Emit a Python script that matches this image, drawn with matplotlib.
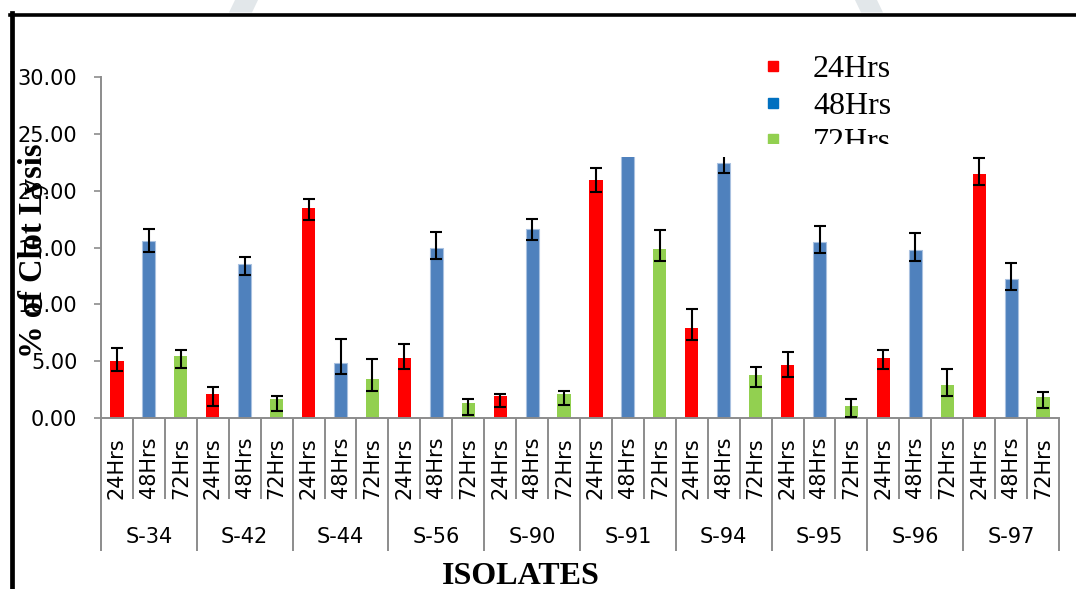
import matplotlib
matplotlib.use("Agg")
import matplotlib.pyplot as plt
import numpy as np
from matplotlib.lines import Line2D
from matplotlib.patches import Rectangle, Polygon
from matplotlib.ticker import FixedLocator

# ---------------- data ----------------
groups = ['S-34', 'S-42', 'S-44', 'S-56', 'S-90', 'S-91', 'S-94', 'S-95', 'S-96', 'S-97']
times = ['24Hrs', '48Hrs', '72Hrs']
v24 = [5.05, 2.13, 18.45, 5.30, 1.99, 20.94, 7.91, 4.68, 5.27, 21.47]
v48 = [15.58, 13.56, 4.89, 15.00, 16.66, 24.50, 22.46, 15.52, 14.79, 12.27]
v72 = [5.47, 1.70, 3.45, 1.34, 2.14, 14.88, 3.80, 1.08, 2.90, 1.87]
lo24 = [0.93, 1.02, 1.02, 0.97, 1.00, 1.03, 1.00, 1.03, 0.94, 1.00]
hi24 = [1.12, 0.65, 0.82, 1.23, 0.15, 1.08, 1.67, 1.14, 0.76, 1.38]
lo48 = [0.94, 0.96, 1.00, 1.00, 1.00, 1.00, 0.96, 0.97, 0.94, 0.97]
hi48 = [1.02, 0.64, 2.05, 1.37, 0.88, 1.00, 0.90, 1.35, 1.47, 1.35]
lo72 = [1.02, 1.03, 1.02, 1.05, 1.00, 1.08, 1.02, 0.94, 0.94, 0.94]
hi72 = [0.53, 0.29, 1.76, 0.36, 0.26, 1.69, 0.70, 0.64, 1.41, 0.41]
yticks = [0, 5, 10, 15, 20, 25, 30]

series = [(v24, lo24, hi24, '#FF0000', 'none'),
          (v48, lo48, hi48, '#4F81BD', '#A9C1E0'),
          (v72, lo72, hi72, '#92D050', 'none')]
legend_colors = ['#FF0000', '#0070C0', '#92D050']

W, H = 1076, 589
fig = plt.figure(figsize=(W / 100, H / 100), dpi=100)

def fx(px):
    return px / W

def fy(py):
    return (H - py) / H

ax_l, ax_r, ax_t, ax_b = 101, 1059, 76.7, 418.3
ax = fig.add_axes([fx(ax_l), fy(ax_b), fx(ax_r - ax_l), (ax_b - ax_t) / H])

ng = len(groups)
nt = len(times)
n = ng * nt
bw = 0.41
for t, (vals, lo, hi, col, ec) in enumerate(series):
    xs = np.arange(ng) * nt + t + 0.5
    ax.bar(xs, vals, width=bw, color=col, edgecolor=ec, linewidth=0.8, zorder=2)
    ax.errorbar(xs, vals, yerr=[lo, hi], fmt='none', ecolor='black',
                elinewidth=1.5, capsize=4.5, capthick=1.5, zorder=3)

ax.set_xlim(0, n)
ax.set_ylim(0, 30)
ax.set_yticks(yticks)
ax.set_yticklabels(['%.2f' % v for v in yticks])
for s in ['top', 'right']:
    ax.spines[s].set_visible(False)
gray = '#8C8C8C'
for s in ['left', 'bottom']:
    ax.spines[s].set_color(gray)
    ax.spines[s].set_linewidth(1.4)
ax.tick_params(axis='y', length=5, width=1.2, color=gray, pad=12,
               labelsize=15, labelcolor='black')
ax.xaxis.set_major_locator(FixedLocator(np.arange(0, n + 1, nt)))
ax.xaxis.set_minor_locator(FixedLocator([i for i in range(n + 1) if i % nt]))
ax.tick_params(axis='x', which='major', length=96, width=1.4, color=gray,
               labelbottom=False)
ax.tick_params(axis='x', which='minor', length=58, width=1.4, color=gray)

trans = ax.get_xaxis_transform()
axh = ax_b - ax_t
for i in range(n):
    ax.text(i + 0.5, (ax_b - 437) / axh, times[i % nt], rotation=90,
            ha='center', va='top', fontsize=15, transform=trans)
for g in range(ng):
    ax.text(g * nt + nt / 2, (ax_b - 537) / axh, groups[g], ha='center',
            va='center', fontsize=15, transform=trans)

serif = ['Liberation Serif', 'DejaVu Serif']
fig.text(fx(521), fy(584.5), 'ISOLATES', ha='center', va='baseline',
         fontsize=23, fontweight='bold', family=serif)
fig.text(fx(34), fy(251), '% of Clot Lysis', rotation=90, ha='center',
         va='center', fontsize=23.5, fontweight='bold', family=serif, zorder=6)

# legend with white background that hides the top of the tall bars
fig.patches.append(Rectangle((fx(600), fy(156.5)), fx(360), (156.5 - 20) / H,
                             transform=fig.transFigure, facecolor='white',
                             edgecolor='none', zorder=1))
handles = [Line2D([], [], marker='s', linestyle='none', color=c,
                  markersize=7.5) for c in legend_colors]
leg = fig.legend(handles, times, loc='upper left',
                 bbox_to_anchor=(fx(757), fy(55)), frameon=False,
                 prop={'family': serif, 'size': 23}, borderpad=0,
                 borderaxespad=0, handlelength=1.0, handletextpad=0.75,
                 labelspacing=0.22)
leg.set_zorder(2)
fig.patches.append(Rectangle((fx(600), fy(156.5)), fx(360), (156.5 - 144) / H,
                             transform=fig.transFigure, facecolor='white',
                             edgecolor='none', zorder=3))

# page border and watermark fragments
fig.lines.append(Line2D([fx(11.5), fx(11.5)], [fy(12.5), -0.05], color='black',
                        linewidth=3.4, transform=fig.transFigure, zorder=7))
fig.lines.append(Line2D([fx(10), 1.05], [fy(14.5), fy(14.5)], color='black',
                        linewidth=2.6, transform=fig.transFigure, zorder=7))
for pts in ([(235, 0), (258, 0), (252, 12.5), (229, 12.5)],
            [(855, 0), (877, 0), (883, 12.5), (861, 12.5)]):
    fig.patches.append(Polygon([(fx(a), fy(b)) for a, b in pts], closed=True,
                               transform=fig.transFigure, facecolor='#E2E7EA',
                               edgecolor='none', zorder=0))

fig.savefig('out.png', dpi=100)
